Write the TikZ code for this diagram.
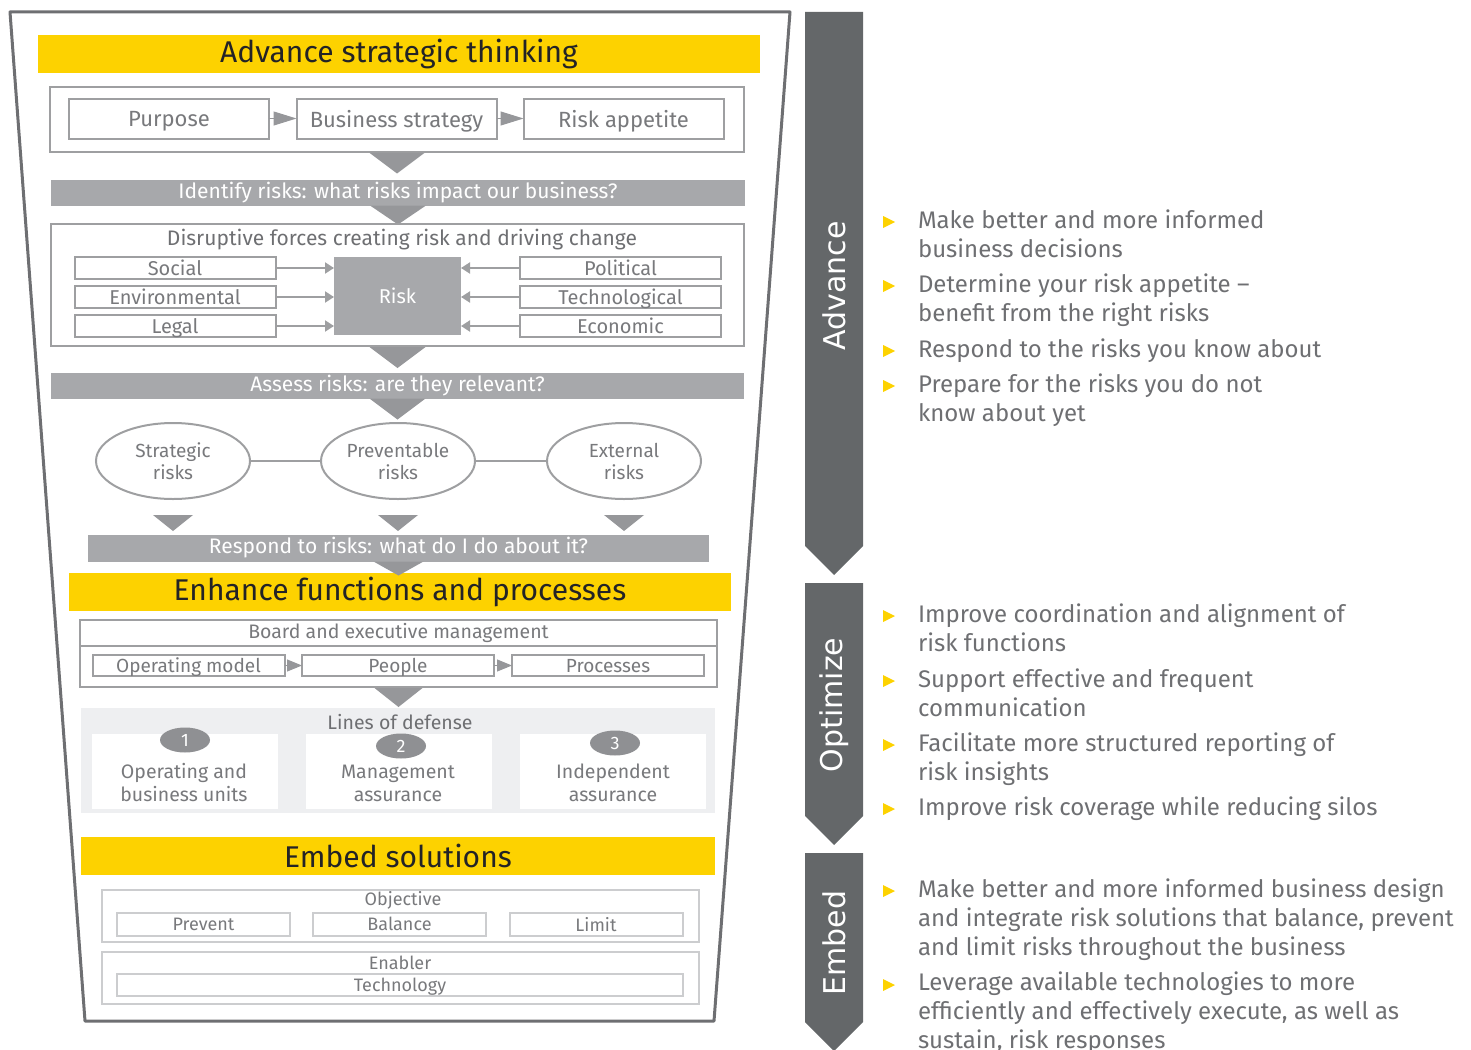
\documentclass[tikz,border=0pt]{standalone}
\usepackage{fontspec}
\setmainfont{Fira Sans}
\newfontfamily\stagefont{DejaVu Sans}
\usetikzlibrary{arrows.meta,calc,positioning,shapes.geometric}
\definecolor{eyyellow}{RGB}{253,210,0}
\definecolor{ink}{RGB}{35,35,38}
\definecolor{bargray}{RGB}{167,168,171}
\definecolor{trigray}{RGB}{150,151,154}
\definecolor{stagegray}{RGB}{100,103,105}
\definecolor{txtgray}{RGB}{120,121,124}
\definecolor{bodygray}{RGB}{110,111,114}
\definecolor{linegray}{RGB}{158,159,161}
\definecolor{lightline}{RGB}{204,205,207}
\definecolor{palegray}{RGB}{238,239,241}
\definecolor{badgegray}{RGB}{143,144,147}
\definecolor{funnelgray}{RGB}{110,111,114}

\begin{document}
\begin{tikzpicture}[x=1pt,y=-1pt,
  every node/.style={inner sep=0pt,outer sep=0pt},
  band/.style={fill=eyyellow,text=ink,minimum height=38pt,font=\fontsize{30}{36}\selectfont},
  frame/.style={draw=linegray,line width=2pt},
  cell/.style={draw=linegray,line width=2pt,fill=white,text=txtgray,text depth=0pt,font=\fontsize{22}{26}\selectfont},
  bar/.style={fill=bargray,text=white,minimum height=26pt,font=\fontsize{21}{25}\selectfont},
  tri/.style={fill=trigray},
  oval/.style={ellipse,draw=linegray,line width=2pt,fill=white,text=txtgray,align=center,
    minimum width=154pt,minimum height=76pt,font=\fontsize{19}{22}\selectfont},
  badge/.style={ellipse,fill=badgegray,text=white,minimum width=50pt,minimum height=25pt,
    font=\fontsize{18}{22}\selectfont},
  lodbox/.style={fill=white,minimum height=75pt},
  lodtext/.style={text=txtgray,align=center,font=\fontsize{19.5}{23}\selectfont},
  soft/.style={draw=lightline,line width=2pt},
  softcell/.style={draw=lightline,line width=2pt,text=txtgray,text depth=0pt,minimum height=23pt,
    font=\fontsize{18}{21}\selectfont},
  caption/.style={text=bodygray,font=\fontsize{19.5}{23}\selectfont},
  feed/.style={draw=linegray,line width=2pt,-{Triangle[length=9pt,width=11pt]}},
  stepflow/.style={draw=trigray,line width=1pt,-{Triangle[length=23pt,width=14pt]}},
  smallflow/.style={draw=trigray,line width=1pt,-{Triangle[length=15pt,width=12pt]}},
  link/.style={draw=linegray,line width=2pt},
  chevron/.style={fill=stagegray},
  stage/.style={rotate=90,text=white,font=\stagefont\fontsize{30}{36}\selectfont},
  item/.style={anchor=north west,align=left,text=bodygray,font=\fontsize{24}{29}\selectfont}]

\useasboundingbox (0,0) rectangle (1471,1049);

\draw[funnelgray,line width=3pt,line join=round] (10,12) -- (790,12) -- (714,1021) -- (85,1021) -- cycle;

\node[band,minimum width=722pt] (adv) at (399,54) {Advance strategic thinking};
\node[frame,minimum width=694pt,minimum height=65pt] (pframe) at (397,119) {};
\node[cell,minimum width=200pt,minimum height=40pt] (purpose) at (169,118.5) {Purpose};
\node[cell,minimum width=200pt,minimum height=40pt] (strategy) at (396.5,118.5) {Business strategy};
\node[cell,minimum width=200pt,minimum height=40pt] (appetite) at (623.5,118.5) {Risk appetite};
\draw[stepflow] (purpose) -- (strategy);
\draw[stepflow] (strategy) -- (appetite);
\fill[tri] ($(pframe.south)+(-28,1)$) -- ++(56,0) -- ($(pframe.south)+(0,22)$) -- cycle;

\node[bar,minimum width=694pt] (identify) at (398,192.5) {Identify risks: what risks impact our business?};
\fill[tri] ($(identify.south)+(-28,0)$) -- ++(56,0) -- ($(identify.south)+(0,19)$) -- cycle;

\node[frame,minimum width=693pt,minimum height=122pt] (forces) at (397.5,285) {};
\node[caption,font=\fontsize{21}{25}\selectfont] (forcestitle) at (402,240) {Disruptive forces creating risk and driving change};
\node[cell,minimum width=201pt,minimum height=22pt,font=\fontsize{20}{24}\selectfont] (social) at (175,268) {Social};
\node[cell,minimum width=201pt,minimum height=22pt,font=\fontsize{20}{24}\selectfont] (environ) at (175,297) {Environmental};
\node[cell,minimum width=201pt,minimum height=22pt,font=\fontsize{20}{24}\selectfont] (legal) at (175,326) {Legal};
\node[fill=bargray,text=white,minimum width=127pt,minimum height=78pt,font=\fontsize{20}{24}\selectfont] (risk) at (397.5,296) {Risk};
\node[cell,minimum width=201pt,minimum height=22pt,font=\fontsize{20}{24}\selectfont] (political) at (620.5,268) {Political};
\node[cell,minimum width=201pt,minimum height=22pt,font=\fontsize{20}{24}\selectfont] (techno) at (620.5,297) {Technological};
\node[cell,minimum width=201pt,minimum height=22pt,font=\fontsize{20}{24}\selectfont] (econ) at (620.5,326) {Economic};
\foreach \f in {social,environ,legal}
  \draw[feed] (\f.east) -- (\f.east -| risk.west);
\foreach \f in {political,techno,econ}
  \draw[feed] (\f.west) -- (\f.west -| risk.east);
\fill[tri] ($(forces.south)+(-28,1)$) -- ++(56,0) -- ($(forces.south)+(0,22)$) -- cycle;

\node[bar,minimum width=693pt] (assess) at (397.5,385.5) {Assess risks: are they relevant?};
\fill[tri] ($(assess.south)+(-28,0)$) -- ++(56,0) -- ($(assess.south)+(0,21)$) -- cycle;

\node[oval] (strat) at (173,461) {Strategic\\risks};
\node[oval] (prev) at (398,461) {Preventable\\risks};
\node[oval] (ext) at (624,461) {External\\risks};
\draw[link] (strat) -- (prev);
\draw[link] (prev) -- (ext);
\foreach \r in {strat,prev,ext}
  \fill[tri] ($(\r.south)+(-20,16)$) -- ++(40,0) -- ($(\r.south)+(0,32)$) -- cycle;

\node[bar,minimum width=621pt,minimum height=27pt] (respond) at (398.5,548) {Respond to risks: what do I do about it?};

\node[band,minimum width=662pt] (enhance) at (400,592) {Enhance functions and processes};
\fill[tri] ($(respond.south)+(-25,0)$) -- ++(50,0) -- ($(respond.south)+(0,14)$) -- cycle;

\node[frame,minimum width=637pt,minimum height=26pt,text=txtgray,font=\fontsize{19.5}{23}\selectfont] (board) at (398.5,633) {Board and executive management};
\node[frame,minimum width=637pt,minimum height=41pt,anchor=north] (boardrow) at (board.south) {};
\node[cell,minimum width=192pt,minimum height=21pt,font=\fontsize{19}{22}\selectfont] (opmodel) at (188.5,665.5) {Operating model};
\node[cell,minimum width=192pt,minimum height=21pt,font=\fontsize{19}{22}\selectfont] (people) at (398,665.5) {People};
\node[cell,minimum width=192pt,minimum height=21pt,font=\fontsize{19}{22}\selectfont] (procs) at (608,665.5) {Processes};
\draw[smallflow] (opmodel) -- (people);
\draw[smallflow] (people) -- (procs);
\fill[tri] ($(boardrow.south)+(-24,1)$) -- ++(48,0) -- ($(boardrow.south)+(0,20)$) -- cycle;

\node[fill=palegray,minimum width=634pt,minimum height=105pt] (lod) at (398,760.5) {};
\node[caption] (lodtitle) at (400,722) {Lines of defense};
\node[lodbox,minimum width=186pt] (line1) at (185,771) {};
\node[lodbox,minimum width=186pt] (line2) at (399,771) {};
\node[lodbox,minimum width=186pt] (line3) at (613,771) {};
\node[lodtext] (unit1) at (184,783) {Operating and\\business units};
\node[lodtext] (unit2) at (398,783) {Management\\assurance};
\node[lodtext] (unit3) at (613,783) {Independent\\assurance};
\node[badge] (num1) at (185,740) {1};
\node[badge] (num2) at (401,746) {2};
\node[badge] (num3) at (615,743) {3};

\node[band,minimum width=634pt] (embedband) at (398,855.5) {Embed solutions};

\node[soft,minimum width=597pt,minimum height=52pt] (objective) at (400,915.5) {};
\node[text=txtgray,font=\fontsize{18}{21}\selectfont] (objtitle) at (403,900) {Objective};
\node[softcell,minimum width=173pt] (prevent) at (203.5,924) {Prevent};
\node[softcell,minimum width=173pt] (balance) at (399.5,924) {Balance};
\node[softcell,minimum width=173pt] (limit) at (596,924) {Limit};
\node[soft,minimum width=597pt,minimum height=52pt] (enabler) at (400,977.5) {};
\node[text=txtgray,font=\fontsize{18}{21}\selectfont] (enabtitle) at (400,963) {Enabler};
\node[softcell,minimum width=566pt,minimum height=22pt] (tech) at (400,985) {Technology};

\fill[chevron] (805,12) -- (863,12) -- (863,546) -- (834,575) -- (805,546) -- cycle;
\fill[chevron] (805,583) -- (863,583) -- (863,816) -- (834,845) -- (805,816) -- cycle;
\fill[chevron] (805,853) -- (863,853) -- (863,1022) -- (834,1051) -- (805,1022) -- cycle;
\node[stage] (advlbl) at (834,286) {Advance};
\node[stage] (optlbl) at (834,705) {Optimize};
\node[stage] (emblbl) at (834,943) {Embed};

\foreach \y in {222,286,351,386,616,681,745,809,891,985}
  \fill[eyyellow] (883,\y-6) -- (895,\y) -- (883,\y+6) -- cycle;

\node[item] (adv1) at (918,210) {Make better and more informed\\business decisions};
\node[item] (adv2) at (918,274) {Determine your risk appetite –\\benefit from the right risks};
\node[item] (adv3) at (918,339) {Respond to the risks you know about};
\node[item] (adv4) at (918,374) {Prepare for the risks you do not\\know about yet};
\node[item] (opt1) at (918,604) {Improve coordination and alignment of\\risk functions};
\node[item] (opt2) at (918,669) {Support effective and frequent\\communication};
\node[item] (opt3) at (918,733) {Facilitate more structured reporting of\\risk insights};
\node[item] (opt4) at (918,797) {Improve risk coverage while reducing silos};
\node[item] (emb1) at (918,879) {Make better and more informed business design\\and integrate risk solutions that balance, prevent\\and limit risks throughout the business};
\node[item] (emb2) at (918,972) {Leverage available technologies to more\\efficiently and effectively execute, as well as\\sustain, risk responses};
\end{tikzpicture}
\end{document}
